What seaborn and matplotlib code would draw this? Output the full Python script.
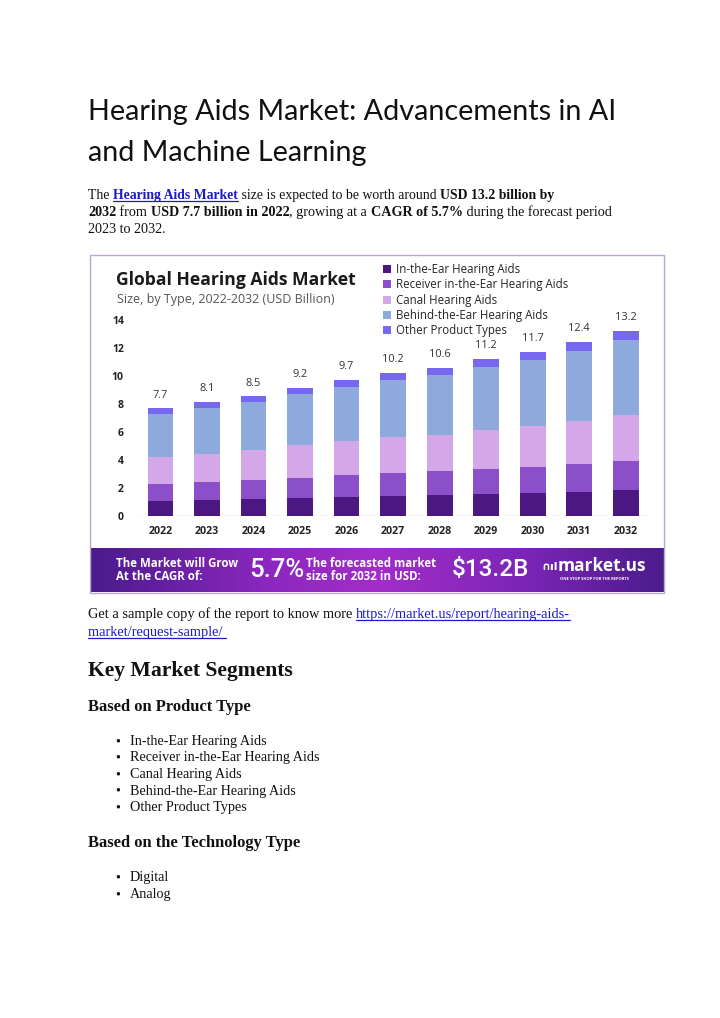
import numpy as np
import pandas as pd
import matplotlib
matplotlib.use("Agg")
import matplotlib.pyplot as plt
import seaborn as sns
from matplotlib.patches import Patch, Rectangle
from matplotlib.lines import Line2D
from matplotlib.colors import LinearSegmentedColormap

# ---------------- data ----------------
years = ["2022", "2023", "2024", "2025", "2026", "2027", "2028", "2029", "2030", "2031", "2032"]
in_the_ear = [1.07, 1.15, 1.22, 1.29, 1.34, 1.41, 1.48, 1.55, 1.65, 1.74, 1.84]
receiver_in_ear = [1.22, 1.29, 1.34, 1.46, 1.57, 1.67, 1.70, 1.79, 1.86, 1.99, 2.10]
canal = [1.96, 2.00, 2.15, 2.29, 2.44, 2.53, 2.62, 2.82, 2.94, 3.08, 3.27]
behind_ear = [3.06, 3.30, 3.41, 3.68, 3.90, 4.11, 4.28, 4.47, 4.71, 4.99, 5.33]
other_types = [0.38, 0.41, 0.43, 0.43, 0.47, 0.53, 0.50, 0.57, 0.57, 0.62, 0.67]
total_labels = ["7.7", "8.1", "8.5", "9.2", "9.7", "10.2", "10.6", "11.2", "11.7", "12.4", "13.2"]
segment_names = ["In-the-Ear Hearing Aids", "Receiver in-the-Ear Hearing Aids",
                 "Canal Hearing Aids", "Behind-the-Ear Hearing Aids", "Other Product Types"]
yticks = [0, 2, 4, 6, 8, 10, 12, 14]
product_bullets = ["In-the-Ear Hearing Aids", "Receiver in-the-Ear Hearing Aids",
                   "Canal Hearing Aids", "Behind-the-Ear Hearing Aids", "Other Product Types"]
tech_bullets = ["Digital", "Analog"]

colors = ["#4b1780", "#8b4fc9", "#d4a7e8", "#8eaadc", "#7668ef"]

W, H = 720, 1018
sns.set_theme(style="white")
plt.rcParams["font.family"] = ["DejaVu Sans"]

fig = plt.figure(figsize=(W / 100, H / 100), dpi=100)
fig.patch.set_facecolor("white")
renderer = fig.canvas.get_renderer()


def fx(x):
    return x / W


def fy(y):
    return 1 - y / H


def run_line(x, y, parts, size, family):
    for txt, bold, color, ul in parts:
        t = fig.text(fx(x), fy(y), txt, fontsize=size, fontweight="bold" if bold else "normal",
                     color=color, family=family, va="baseline", ha="left")
        bb = t.get_window_extent(renderer)
        if ul:
            fig.add_artist(Line2D([fx(x), fx(x + bb.width)], [fy(y + 2.2)] * 2,
                                  color=color, lw=0.9))
        x += bb.width
    return x


# ---------------- page title ----------------
title_font = "Lato"
tmp = fig.text(0, 0, "Hearing Aids Market: Advancements in AI", fontsize=20, family=title_font)
tw = tmp.get_window_extent(renderer).width
tmp.remove()
tsize = 20 * 529 / tw
fig.text(fx(88), fy(120), "Hearing Aids Market: Advancements in AI", fontsize=tsize,
         family=title_font, color="#111111", va="baseline")
fig.text(fx(88), fy(161), "and Machine Learning", fontsize=tsize,
         family=title_font, color="#111111", va="baseline")

serif = "Liberation Serif"
black = "#111111"
link = "#1a1acc"
ps = 10.2
run_line(88, 199, [("The ", False, black, False), ("Hearing Aids Market", True, link, True),
                   (" size is expected to be worth around ", False, black, False),
                   ("USD 13.2 billion by", True, black, False)], 9.9, serif)
run_line(88, 216, [("2032", True, black, False), (" from ", False, black, False),
                   ("USD 7.7 billion in 2022", True, black, False),
                   (", growing at a ", False, black, False), ("CAGR of 5.7%", True, black, False),
                   (" during the forecast period", False, black, False)], ps, serif)
run_line(88, 233, [("2023 to 2032.", False, black, False)], ps, serif)

# ---------------- chart box ----------------
fig.add_artist(Rectangle((fx(90), fy(593)), fx(664) - fx(90), fy(255) - fy(593),
                         transform=fig.transFigure, fill=False, edgecolor="#bba8d0", lw=1.0))

ax = fig.add_axes([fx(137.7), fy(516), (648 - 137.7) / W, 196 / H])
layers = [in_the_ear, receiver_in_ear, canal, behind_ear, other_types]
cums = np.cumsum(np.array(layers), axis=0)
for k in range(len(layers) - 1, -1, -1):
    df = pd.DataFrame({"year": years, "value": cums[k]})
    sns.barplot(data=df, x="year", y="value", color=colors[k], width=0.555,
                saturation=1, ax=ax, linewidth=0, edgecolor="none")

ax.set_xlim(-0.49, 10.48)
ax.set_ylim(0, 14)
ax.set_yticks(yticks)
ax.set_yticklabels([str(v) for v in yticks], fontsize=7.5, fontweight="bold", color="#222222",
                   family="Open Sans")
ax.set_xticks(range(len(years)))
ax.set_xticklabels(years, fontsize=7.7, fontweight="bold", color="#222222", family="Open Sans")
ax.tick_params(axis="x", length=0, pad=7)
ax.tick_params(axis="y", length=0, pad=10)
ax.set_xlabel("")
ax.set_ylabel("")
for s in ax.spines.values():
    s.set_visible(False)
ax.axhline(0, color="#d6d6d6", lw=1.0, zorder=0)
ax.set_facecolor("white")

for i, lab in enumerate(total_labels):
    ax.text(i, cums[-1][i] + 0.95, lab, ha="center", va="center", fontsize=7.9,
            color="#333333", family="Open Sans")

fig.text(fx(116), fy(280), "Global Hearing Aids Market", fontsize=12.6, fontweight="bold",
         family="Open Sans", color="#1a1a1a", va="center")
fig.text(fx(117), fy(299), "Size, by Type, 2022-2032 (USD Billion)", fontsize=9.0,
         family="Open Sans", color="#555555", va="center")

handles = [Patch(facecolor=c, edgecolor="none") for c in colors]
fig.legend(handles, segment_names, loc="upper left", bbox_to_anchor=(fx(383), fy(263)),
           frameon=False, handlelength=0.7, handleheight=0.7,
           handletextpad=0.4, labelspacing=0.2, borderpad=0, borderaxespad=0,
           prop={"family": "Open Sans", "size": 8.3})

# ---------------- banner ----------------
bax = fig.add_axes([fx(90), fy(592), (664 - 90) / W, (592 - 548) / H])
cmap = LinearSegmentedColormap.from_list(
    "ban", [(0, "#4a1b8a"), (0.3, "#8a27be"), (0.5, "#a22ec9"), (0.75, "#7d25b8"), (1, "#4b1c8c")])
bax.imshow(np.linspace(0, 1, 256)[None, :], aspect="auto", cmap=cmap, extent=[0, 1, 0, 1])
bax.set_axis_off()

wf = "Open Sans"
fig.text(fx(116), fy(570), "The Market will Grow\nAt the CAGR of:", fontsize=8.3,
         fontweight="bold", color="white", family=wf, va="center", linespacing=1.05)
fig.text(fx(249), fy(570), "5.7%", fontsize=18.5, color="white", family="Roboto",
         fontweight="medium", va="center")
fig.text(fx(306), fy(570), "The forecasted market\nsize for 2032 in USD:", fontsize=8.3,
         fontweight="bold", color="white", family=wf, va="center", linespacing=1.05)
fig.text(fx(452), fy(570), "$13.2B", fontsize=17.5, color="white", family="Roboto",
         fontweight="medium", va="center")
fig.text(fx(541), fy(567), "\u2229\u0131l", fontsize=8, color="white", fontweight="bold",
         va="center", family="DejaVu Sans")
fig.text(fx(558), fy(566), "market.us", fontsize=12.5, color="white", fontweight="bold",
         va="center", family=wf)
fig.text(fx(560), fy(579), "ONE STOP SHOP FOR THE REPORTS", fontsize=2.9, color="white",
         va="center", family=wf, fontweight="bold")

# ---------------- lower text ----------------
run_line(88, 618, [("Get a sample copy of the report to know more ", False, black, False),
                   ("https://market.us/report/hearing-aids-", False, link, True)], 10.4, serif)
run_line(88, 636, [("market/request-sample/ ", False, link, True)], 10.4, serif)

fig.text(fx(88), fy(676), "Key Market Segments", fontsize=15.6, fontweight="bold",
         family=serif, color=black, va="baseline")
fig.text(fx(88), fy(711), "Based on Product Type", fontsize=11.9, fontweight="bold",
         family=serif, color=black, va="baseline")
for j, b in enumerate(product_bullets):
    yy = 745 + j * 16.5
    fig.text(fx(115), fy(yy), "\u2022", fontsize=ps, family=serif, color=black, va="baseline")
    fig.text(fx(130), fy(yy), b, fontsize=ps, family=serif, color=black, va="baseline")
fig.text(fx(88), fy(847), "Based on the Technology Type", fontsize=11.9, fontweight="bold",
         family=serif, color=black, va="baseline")
for j, b in enumerate(tech_bullets):
    yy = 881 + j * 17
    fig.text(fx(115), fy(yy), "\u2022", fontsize=ps, family=serif, color=black, va="baseline")
    fig.text(fx(130), fy(yy), b, fontsize=ps, family=serif, color=black, va="baseline")

fig.savefig("out.png", dpi=100, facecolor="white")
